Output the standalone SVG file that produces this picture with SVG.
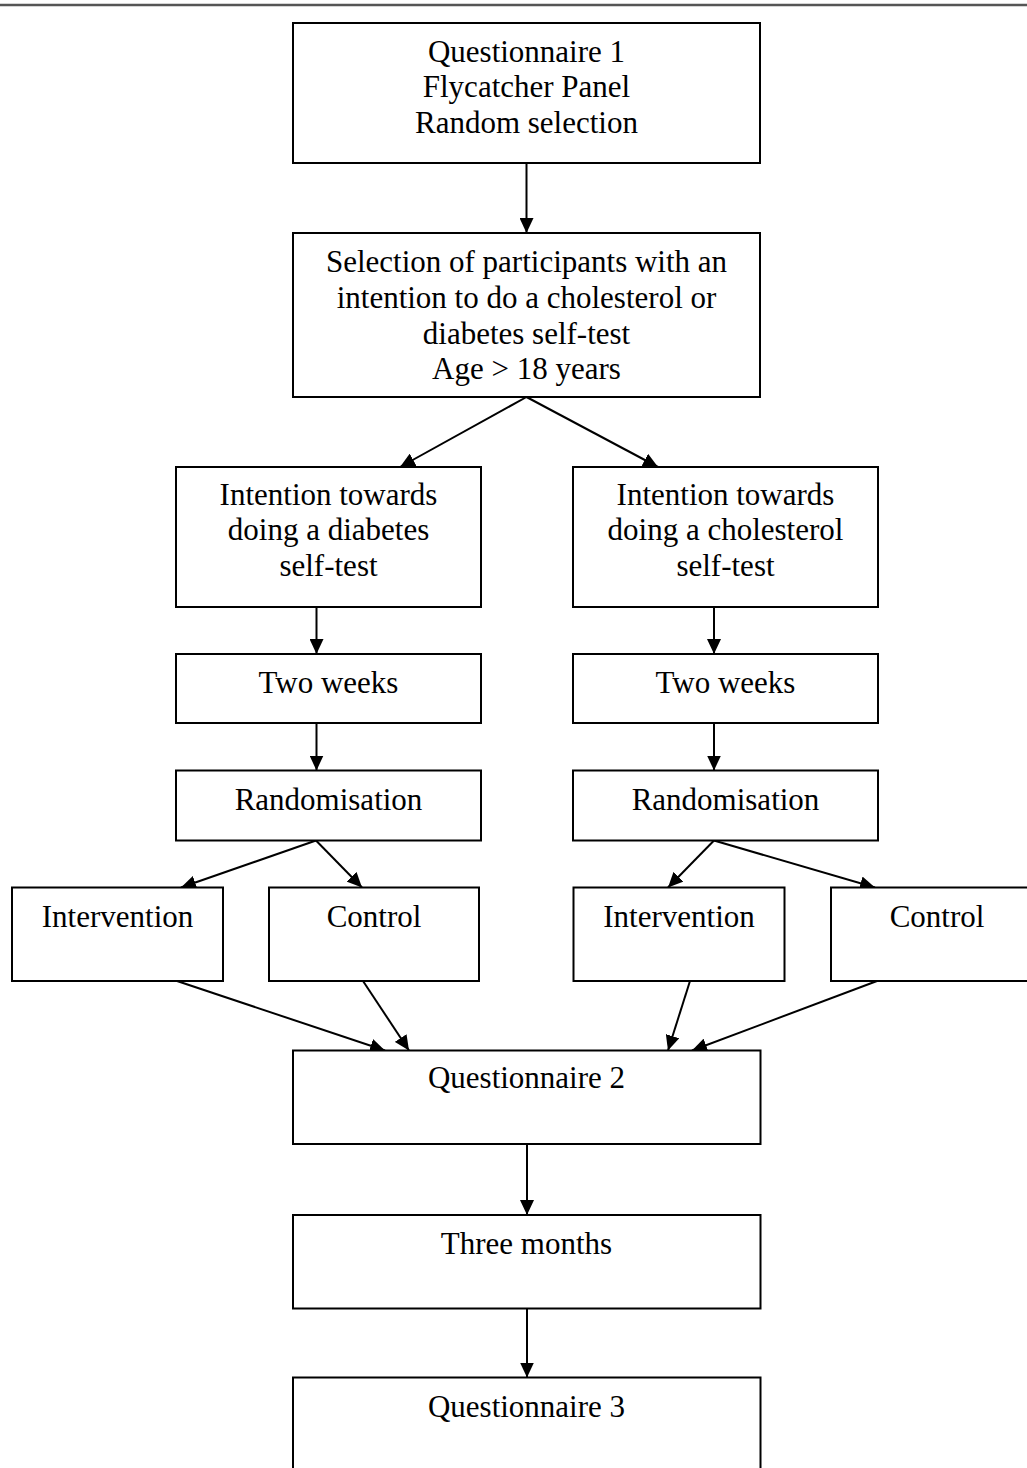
<svg xmlns="http://www.w3.org/2000/svg" width="1027" height="1468" viewBox="0 0 1027 1468">
<style>
.box{fill:#fff;stroke:#000;stroke-width:2}
.t{font-family:"Liberation Serif","Times New Roman",serif;font-size:31px;fill:#000;text-anchor:middle}
.c{stroke:#000;stroke-width:2;fill:none;marker-end:url(#ah)}
</style>
<defs>
<marker id="ah" viewBox="0 0 15 14" refX="15" refY="7" markerWidth="15" markerHeight="14" markerUnits="userSpaceOnUse" orient="auto">
<path d="M0,0 L15,7 L0,14 z" fill="#000"/>
</marker>
</defs>
<rect width="1027" height="1468" fill="#fff"/>
<line x1="0" y1="5" x2="1027" y2="5" stroke="#555" stroke-width="2.5"/>

<g id="connectors">
<line class="c" x1="526.5" y1="163" x2="526.5" y2="233"/>
<line class="c" x1="526.5" y1="397" x2="400" y2="467"/>
<line class="c" x1="526.5" y1="397" x2="658" y2="467"/>
<line class="c" x1="316.5" y1="607" x2="316.5" y2="654"/>
<line class="c" x1="714" y1="607" x2="714" y2="654"/>
<line class="c" x1="316.5" y1="723" x2="316.5" y2="770.5"/>
<line class="c" x1="714" y1="723" x2="714" y2="770.5"/>
<line class="c" x1="316" y1="840.5" x2="181" y2="887.5"/>
<line class="c" x1="316" y1="840.5" x2="362" y2="887.5"/>
<line class="c" x1="714" y1="840.5" x2="668" y2="887.5"/>
<line class="c" x1="714" y1="840.5" x2="875" y2="887.5"/>
<line class="c" x1="177" y1="981" x2="385" y2="1050.5"/>
<line class="c" x1="363" y1="981" x2="409" y2="1050.5"/>
<line class="c" x1="690" y1="981" x2="668" y2="1050.5"/>
<line class="c" x1="877" y1="981" x2="692" y2="1050.5"/>
<line class="c" x1="527" y1="1144" x2="527" y2="1215"/>
<line class="c" x1="527" y1="1308" x2="527" y2="1377.5"/>
</g>

<g id="q1">
<rect class="box" x="293" y="23" width="467" height="140"/>
<text class="t" x="526.5" y="62">Questionnaire 1</text>
<text class="t" x="526.5" y="97">Flycatcher Panel</text>
<text class="t" x="526.5" y="133">Random selection</text>
</g>

<g id="selection">
<rect class="box" x="293" y="233" width="467" height="164"/>
<text class="t" x="526.5" y="272">Selection of participants with an</text>
<text class="t" x="526.5" y="308">intention to do a cholesterol or</text>
<text class="t" x="526.5" y="344">diabetes self-test</text>
<text class="t" x="526.5" y="379">Age &gt; 18 years</text>
</g>

<g id="intent-diabetes">
<rect class="box" x="176" y="467" width="305" height="140"/>
<text class="t" x="328.5" y="505">Intention towards</text>
<text class="t" x="328.5" y="540">doing a diabetes</text>
<text class="t" x="328.5" y="576">self-test</text>
</g>

<g id="intent-cholesterol">
<rect class="box" x="573" y="467" width="305" height="140"/>
<text class="t" x="725.5" y="505">Intention towards</text>
<text class="t" x="725.5" y="540">doing a cholesterol</text>
<text class="t" x="725.5" y="576">self-test</text>
</g>

<g id="twoweeks-left">
<rect class="box" x="176" y="654" width="305" height="69"/>
<text class="t" x="328.5" y="692.5">Two weeks</text>
</g>

<g id="twoweeks-right">
<rect class="box" x="573" y="654" width="305" height="69"/>
<text class="t" x="725.5" y="692.5">Two weeks</text>
</g>

<g id="random-left">
<rect class="box" x="176" y="770.5" width="305" height="70"/>
<text class="t" x="328.5" y="810">Randomisation</text>
</g>

<g id="random-right">
<rect class="box" x="573" y="770.5" width="305" height="70"/>
<text class="t" x="725.5" y="810">Randomisation</text>
</g>

<g id="intervention-left">
<rect class="box" x="12" y="887.5" width="211" height="93.5"/>
<text class="t" x="117.5" y="926.5">Intervention</text>
</g>

<g id="control-left">
<rect class="box" x="269" y="887.5" width="210" height="93.5"/>
<text class="t" x="374" y="926.5">Control</text>
</g>

<g id="intervention-right">
<rect class="box" x="573.5" y="887.5" width="211" height="93.5"/>
<text class="t" x="679" y="926.5">Intervention</text>
</g>

<g id="control-right">
<rect class="box" x="831" y="887.5" width="212" height="93.5"/>
<text class="t" x="937" y="926.5">Control</text>
</g>

<g id="q2">
<rect class="box" x="293" y="1050.5" width="467.5" height="93.5"/>
<text class="t" x="526.5" y="1088">Questionnaire 2</text>
</g>

<g id="three-months">
<rect class="box" x="293" y="1215" width="467.5" height="93.5"/>
<text class="t" x="526.5" y="1254">Three months</text>
</g>

<g id="q3">
<rect class="box" x="293" y="1377.5" width="467.5" height="100"/>
<text class="t" x="526.5" y="1416.5">Questionnaire 3</text>
</g>
</svg>
